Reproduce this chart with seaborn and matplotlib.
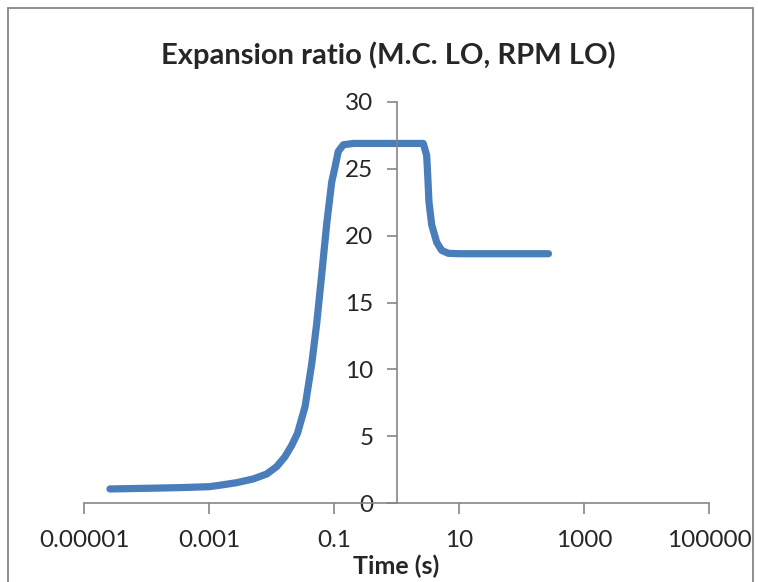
import matplotlib
matplotlib.use('Agg')
import matplotlib.pyplot as plt
from matplotlib.patches import Rectangle
import seaborn as sns

# Data
time_s = [2.6e-5, 1e-4, 3.4e-4, 1e-3, 1.5e-3, 2.77e-3, 5.11e-3, 8.38e-3, 0.0121,
          0.0164, 0.021, 0.026, 0.0344, 0.044, 0.0528, 0.0636, 0.0765,
          0.0918, 0.104, 0.117, 0.141, 0.204, 1.0, 2.68, 3.04, 3.16, 3.31, 3.66,
          4.4, 5.28, 6.74, 10, 270]
ratio = [1.05, 1.1, 1.15, 1.22, 1.33, 1.52, 1.8, 2.17, 2.72,
         3.46, 4.3, 5.2, 7.2, 10.4, 13.4, 17.1, 20.9,
         24.0, 25.15, 26.3, 26.8, 26.9, 26.9, 26.9, 26.0, 24.5, 22.5, 20.8,
         19.5, 18.9, 18.68, 18.65, 18.65]
x_ticks = [1e-5, 1e-3, 1e-1, 10, 1000, 100000]
x_tick_labels = ['0.00001', '0.001', '0.1', '10', '1000', '100000']
y_ticks = [0, 5, 10, 15, 20, 25, 30]

sns.set_style("white")
plt.rcParams['font.family'] = ['Lato', 'DejaVu Sans']

W, H = 758, 582
fig = plt.figure(figsize=(W / 100, H / 100), dpi=100)
ax = fig.add_axes([84 / W, 1 - 503 / H, 625 / W, 401 / H])

sns.lineplot(x=time_s, y=ratio, ax=ax, color='#4A7EBB', linewidth=5.2,
             sort=False, solid_capstyle='round', solid_joinstyle='round')

ax.set_xscale('log')
ax.set_xlim(1e-5, 1e5)
ax.set_ylim(0, 30)
ax.set_xticks(x_ticks)
ax.set_xticklabels(x_tick_labels)
ax.minorticks_off()
ax.set_yticks(y_ticks)

axis_grey = '#868686'
for side in ['top', 'right']:
    ax.spines[side].set_visible(False)
ax.spines['left'].set_position(('data', 1))
for side in ['left', 'bottom']:
    ax.spines[side].set_color(axis_grey)
    ax.spines[side].set_linewidth(1.2)

ax.tick_params(axis='x', direction='out', length=8, width=1.2, color=axis_grey,
               labelsize=17.5, pad=11.5, bottom=True)
ax.tick_params(axis='y', direction='out', length=7, width=1.2, color=axis_grey,
               labelsize=17.5, pad=9.5, left=True)
ax.grid(False)

ax.set_xlabel('Time (s)', fontsize=18, fontweight='bold', labelpad=2.2)
ax.set_ylabel('')
fig.text(388 / W, 1 - 55 / H, 'Expansion ratio (M.C. LO, RPM LO)',
         ha='center', va='center', fontsize=21, fontweight='bold')

# chart frame
fig.patches.append(Rectangle((8 / W, -0.05), (753 - 8) / W, 1.05 - 8 / H,
                             transform=fig.transFigure, fill=False,
                             edgecolor=axis_grey, linewidth=1.3))

plt.savefig('out.png', dpi=100)
plt.close()
